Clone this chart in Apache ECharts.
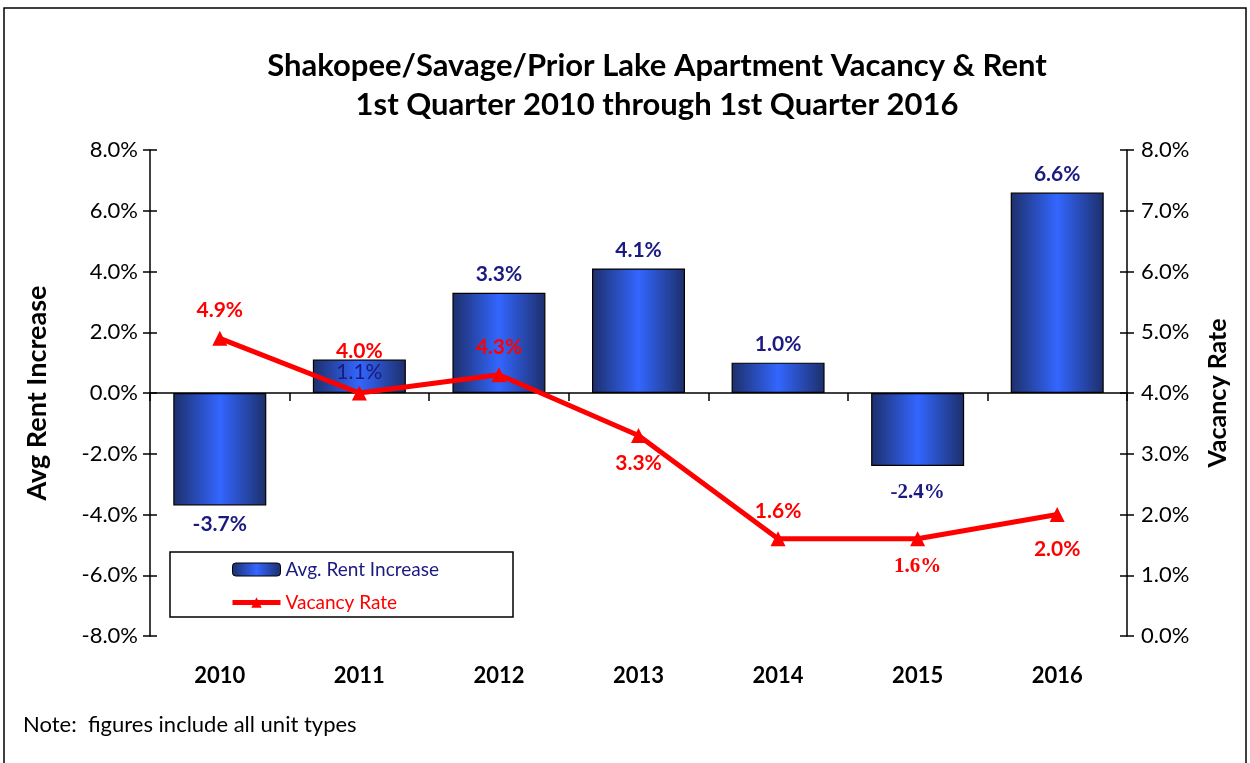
<!DOCTYPE html>
<html>
<head>
<meta charset="utf-8">
<script src="https://cdn.jsdelivr.net/npm/echarts@6/dist/echarts.min.js"></script>
<style>
  html, body { margin: 0; padding: 0; background: #fff; }
  #chart { width: 1250px; height: 763px; }
</style>
</head>
<body>
<div id="chart"></div>
<script>
// data
var years = ['2010', '2011', '2012', '2013', '2014', '2015', '2016'];
var rentIncrease = [-3.7, 1.1, 3.3, 4.1, 1.0, -2.4, 6.6];
var vacancyRate = [4.9, 4.0, 4.3, 3.3, 1.6, 1.6, 2.0];
var vacancyLabelPos = ['top', 'top', 'top', 'bottom', 'top', 'bottom', 'bottom'];

var font = 'Lato';
var navy = '#1a1a80';
var pct = function (p) { return p.value.toFixed(1) + '%'; };

var barFill = new echarts.graphic.LinearGradient(0, 0, 1, 0, [
  { offset: 0, color: '#1d2f6a' },
  { offset: 0.5, color: '#3366ff' },
  { offset: 1, color: '#1d2f6a' }
]);

var barData = rentIncrease.map(function (v, i) {
  var lab = { position: v < 0 ? 'bottom' : 'top' };
  if (years[i] === '2011') { lab.position = 'insideTop'; lab.distance = 2; lab.fontWeight = 'normal'; }
  if (years[i] === '2015') { lab.fontFamily = 'Liberation Serif'; lab.distance = 16; }
  return { value: v, label: lab };
});

var lineData = vacancyRate.map(function (v, i) {
  var lab = { position: vacancyLabelPos[i] };
  if (years[i] === '2011') lab.distance = 24;
  if (years[i] === '2015') lab.fontFamily = 'Liberation Serif';
  if (years[i] === '2016') lab.distance = 17;
  return { value: v, label: lab };
});

var tickStyle = { color: '#000', width: 1.5 };
var fmt = function (v) { return v.toFixed(1) + '%'; };

var chart = echarts.init(document.getElementById('chart'));
var option = {
  backgroundColor: '#fff',
  animation: false,
  title: {
    text: 'Shakopee/Savage/Prior Lake Apartment Vacancy & Rent\n1st Quarter 2010 through 1st Quarter 2016',
    left: 652,
    textAlign: 'center',
    top: 41,
    textStyle: { fontFamily: font, fontWeight: 'bold', fontSize: 31, lineHeight: 39, color: '#000' }
  },
  graphic: [
    { type: 'rect', shape: { x: 4, y: 8, width: 1242, height: 800 }, style: { fill: 'none', stroke: '#000', lineWidth: 1.5 } },
    { type: 'rect', shape: { x: 170, y: 552, width: 343, height: 65 }, style: { fill: '#fff', stroke: '#000', lineWidth: 1.5 }, z: 5 },
    { type: 'text', left: 23, top: 714, style: { text: 'Note:  figures include all unit types', fontFamily: font, fontSize: 22, fill: '#000' } }
  ],
  legend: {
    orient: 'vertical',
    left: 230,
    top: 560,
    padding: 0,
    itemWidth: 48,
    itemHeight: 13,
    itemGap: 14,
    z: 10,
    textStyle: { fontFamily: font, fontSize: 19 },
    data: [
      { name: 'Avg. Rent Increase', textStyle: { color: navy }, itemStyle: { borderColor: '#000', borderWidth: 1 } },
      { name: 'Vacancy Rate', textStyle: { color: '#ff0000' }, lineStyle: { width: 5 } }
    ]
  },
  grid: { left: 150, right: 123, top: 150, bottom: 127 },
  xAxis: [
    {
      type: 'category',
      data: years,
      axisLine: { onZero: true, onZeroAxisIndex: 0, lineStyle: tickStyle },
      axisTick: { show: true, length: 8, lineStyle: tickStyle },
      axisLabel: { show: false }
    },
    {
      type: 'category',
      data: years,
      position: 'bottom',
      axisLine: { onZero: false, show: false },
      axisTick: { show: false },
      axisLabel: { margin: 29, fontFamily: font, fontWeight: 'bold', fontSize: 22, color: '#000' }
    },
    {
      // inner half of the crossing ticks on the zero line
      type: 'category',
      data: years,
      axisLine: { onZero: true, onZeroAxisIndex: 0, show: false },
      axisTick: { show: true, inside: true, length: 8, lineStyle: tickStyle },
      axisLabel: { show: false }
    }
  ],
  yAxis: [
    {
      type: 'value',
      min: -8,
      max: 8,
      interval: 2,
      position: 'left',
      name: 'Avg Rent Increase',
      nameLocation: 'middle',
      nameGap: 99,
      nameTextStyle: { fontFamily: font, fontWeight: 'bold', fontSize: 27, color: '#000' },
      axisLine: { show: true, lineStyle: tickStyle },
      axisTick: { show: true, length: 7, lineStyle: tickStyle },
      axisLabel: { margin: 12, fontFamily: font, fontSize: 22, color: '#000', formatter: fmt },
      splitLine: { show: false }
    },
    {
      type: 'value',
      min: 0,
      max: 8,
      interval: 1,
      position: 'right',
      name: 'Vacancy Rate',
      nameLocation: 'middle',
      nameGap: 78,
      nameRotate: 90,
      nameTextStyle: { fontFamily: font, fontWeight: 'bold', fontSize: 25, color: '#000' },
      axisLine: { show: true, lineStyle: tickStyle },
      axisTick: { show: true, length: 7, lineStyle: tickStyle },
      axisLabel: { margin: 14, fontFamily: font, fontSize: 22, color: '#000', formatter: fmt },
      splitLine: { show: false }
    },
    {
      // inner half of the crossing ticks, left
      type: 'value', min: -8, max: 8, interval: 2, position: 'left',
      axisLine: { show: false },
      axisTick: { show: true, inside: true, length: 7, lineStyle: tickStyle },
      axisLabel: { show: false },
      splitLine: { show: false }
    },
    {
      // inner half of the crossing ticks, right
      type: 'value', min: 0, max: 8, interval: 1, position: 'right',
      axisLine: { show: false },
      axisTick: { show: true, inside: true, length: 7, lineStyle: tickStyle },
      axisLabel: { show: false },
      splitLine: { show: false }
    }
  ],
  series: [
    {
      name: 'Avg. Rent Increase',
      type: 'bar',
      xAxisIndex: 0,
      yAxisIndex: 0,
      barWidth: 93,
      data: barData,
      itemStyle: { color: barFill, borderColor: '#000', borderWidth: 1.2 },
      label: { show: true, distance: 8, fontFamily: font, fontWeight: 'bold', fontSize: 21, color: navy, formatter: pct }
    },
    {
      name: 'Vacancy Rate',
      type: 'line',
      xAxisIndex: 0,
      yAxisIndex: 1,
      data: lineData,
      symbol: 'triangle',
      symbolSize: 15,
      lineStyle: { color: '#ff0000', width: 5 },
      itemStyle: { color: '#ff0000' },
      z: 4,
      label: { show: true, distance: 10, fontFamily: font, fontWeight: 'bold', fontSize: 21, color: '#ff0000', formatter: pct }
    }
  ]
};
chart.setOption(option);
</script>
</body>
</html>
